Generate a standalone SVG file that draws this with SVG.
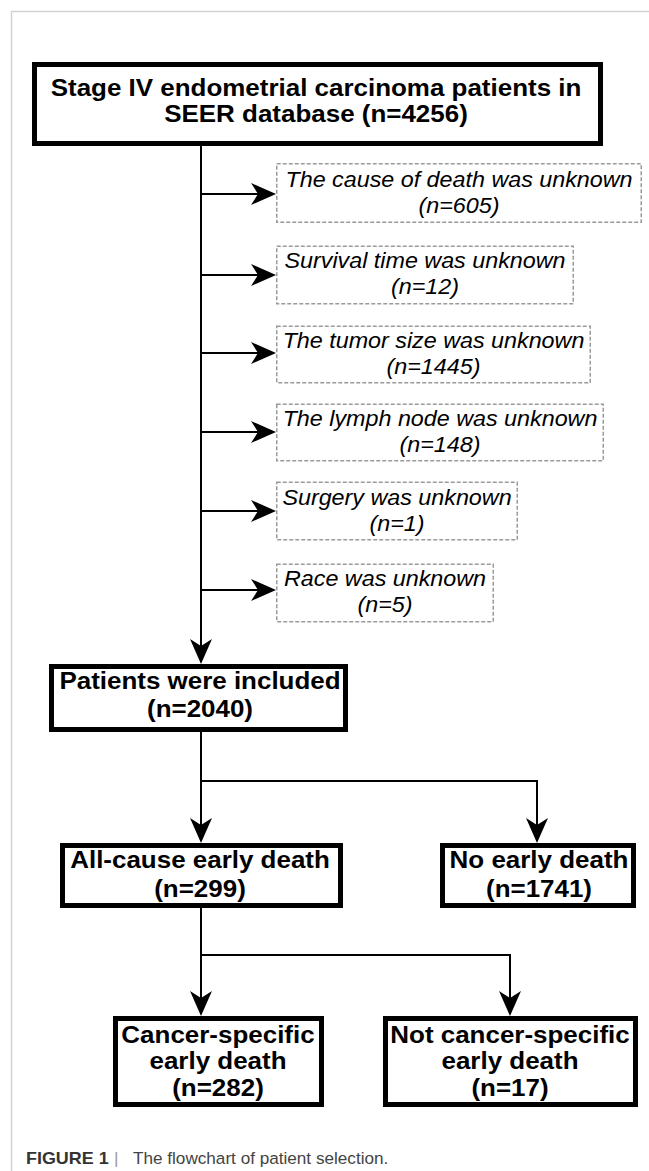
<svg xmlns="http://www.w3.org/2000/svg" width="649" height="1171" viewBox="0 0 649 1171">
<style>
.frame{stroke:#d2d2d2;stroke-width:1.5;fill:none}
.main rect{fill:#fff;stroke:#000;stroke-width:5}
.main text{font-family:"Liberation Sans",Arial,sans-serif;font-weight:bold;font-size:23.6px;text-anchor:middle;fill:#000}
.excl rect{fill:#fff;stroke:#9a9a9a;stroke-width:1.5;stroke-dasharray:4 2}
.excl text{font-family:"Liberation Sans",Arial,sans-serif;font-style:italic;font-size:21.2px;text-anchor:middle;fill:#000}
.conn path{fill:none;stroke:#000;stroke-width:2}
.cap{font-family:"Liberation Sans",Arial,sans-serif;font-size:15.6px}
</style>
<defs>
<marker id="arr" viewBox="0 0 25 22" markerWidth="25" markerHeight="22" refX="22" refY="11" orient="auto" markerUnits="userSpaceOnUse">
<path d="M0,0 L25,11 L0,22 L7,11 Z" fill="#000"/>
</marker>
</defs>
<rect width="649" height="1171" fill="#fff"/>
<path class="frame" d="M11.5,1171 V11.5 H649"/>

<g id="connectors" class="conn">
<path d="M201,146 V661" marker-end="url(#arr)"/>
<path d="M201,194 H273" marker-end="url(#arr)"/>
<path d="M201,275 H273" marker-end="url(#arr)"/>
<path d="M201,353 H273" marker-end="url(#arr)"/>
<path d="M201,432 H273" marker-end="url(#arr)"/>
<path d="M201,511 H273" marker-end="url(#arr)"/>
<path d="M201,590 H273" marker-end="url(#arr)"/>
<path d="M201,732 V840" marker-end="url(#arr)"/>
<path d="M201,781 H537 V840" marker-end="url(#arr)"/>
<path d="M201,908 V1013" marker-end="url(#arr)"/>
<path d="M201,955 H510 V1013" marker-end="url(#arr)"/>
</g>

<g id="n_stage" class="main">
<rect x="34.5" y="64.5" width="566" height="79"/>
<text transform="translate(316 0) scale(1.1 1)" x="0" y="96">Stage IV endometrial carcinoma patients in<tspan x="0" dy="26.5">SEER database (n=4256)</tspan></text>
</g>

<g id="x_cause" class="excl">
<rect x="276.75" y="163.75" width="364.5" height="58.5"/>
<text transform="translate(459 0) scale(1.1 1)" x="0" y="187">The cause of death was unknown<tspan x="0" dy="26">(n=605)</tspan></text>
</g>
<g id="x_survival" class="excl">
<rect x="276.75" y="246.25" width="296.5" height="57.5"/>
<text transform="translate(425 0) scale(1.1 1)" x="0" y="268">Survival time was unknown<tspan x="0" dy="26">(n=12)</tspan></text>
</g>
<g id="x_tumor" class="excl">
<rect x="276.75" y="326.25" width="313.5" height="56.5"/>
<text transform="translate(433.5 0) scale(1.1 1)" x="0" y="348">The tumor size was unknown<tspan x="0" dy="26">(n=1445)</tspan></text>
</g>
<g id="x_lymph" class="excl">
<rect x="276.75" y="404.25" width="326.5" height="56.5"/>
<text transform="translate(440 0) scale(1.1 1)" x="0" y="426">The lymph node was unknown<tspan x="0" dy="26">(n=148)</tspan></text>
</g>
<g id="x_surgery" class="excl">
<rect x="276.75" y="482.25" width="240.5" height="57.5"/>
<text transform="translate(397 0) scale(1.1 1)" x="0" y="505">Surgery was unknown<tspan x="0" dy="26">(n=1)</tspan></text>
</g>
<g id="x_race" class="excl">
<rect x="276.75" y="564.25" width="216.5" height="57.5"/>
<text transform="translate(385 0) scale(1.1 1)" x="0" y="586">Race was unknown<tspan x="0" dy="26">(n=5)</tspan></text>
</g>

<g id="n_included" class="main">
<rect x="51.5" y="666.5" width="294" height="63"/>
<text transform="translate(200 0) scale(1.1 1)" x="0" y="689">Patients were included<tspan x="0" dy="28">(n=2040)</tspan></text>
</g>

<g id="n_allcause" class="main">
<rect x="62.5" y="845.5" width="278" height="60"/>
<text transform="translate(200 0) scale(1.1 1)" x="0" y="868">All-cause early death<tspan x="0" dy="29">(n=299)</tspan></text>
</g>
<g id="n_noearly" class="main">
<rect x="442.5" y="845.5" width="191" height="60"/>
<text transform="translate(539 0) scale(1.1 1)" x="0" y="868">No early death<tspan x="0" dy="29">(n=1741)</tspan></text>
</g>

<g id="n_cancer" class="main">
<rect x="115.5" y="1018.5" width="206" height="86"/>
<text transform="translate(218 0) scale(1.1 1)" x="0" y="1043">Cancer-specific<tspan x="0" dy="26.5">early death</tspan><tspan x="0" dy="26.5">(n=282)</tspan></text>
</g>
<g id="n_notcancer" class="main">
<rect x="385.5" y="1018.5" width="250" height="86"/>
<text transform="translate(510 0) scale(1.1 1)" x="0" y="1043">Not cancer-specific<tspan x="0" dy="26.5">early death</tspan><tspan x="0" dy="26.5">(n=17)</tspan></text>
</g>

<g id="caption">
<text class="cap" transform="translate(26 0) scale(1.1 1)" x="0" y="1164"><tspan font-size="16.3" font-weight="bold" fill="#333">FIGURE 1</tspan><tspan x="80" fill="#999">|</tspan><tspan x="97.3" fill="#444">The flowchart of patient selection.</tspan></text>
</g>
</svg>
